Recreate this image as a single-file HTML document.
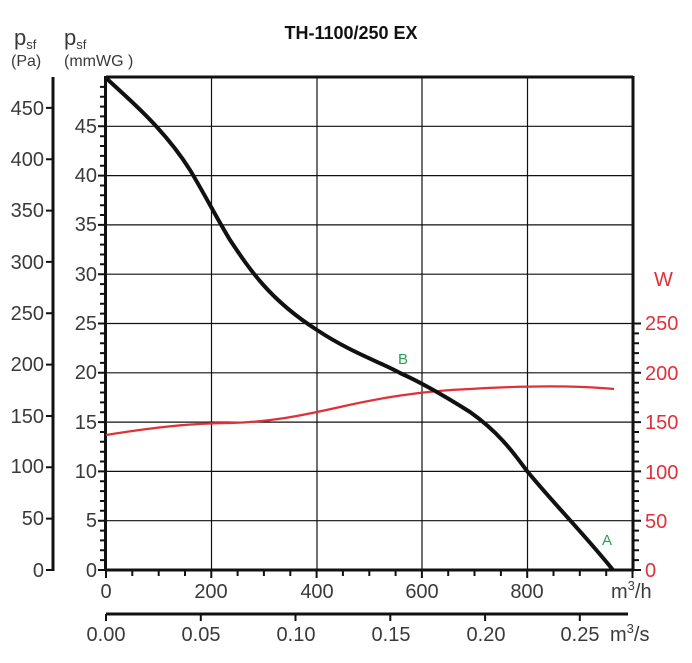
<!DOCTYPE html>
<html><head><meta charset="utf-8"><style>
body{margin:0;background:#fff}
text{font-family:"Liberation Sans Narrow","Liberation Sans",sans-serif}
</style></head><body>
<svg width="692" height="658" viewBox="0 0 692 658" xmlns="http://www.w3.org/2000/svg">
<g stroke="#111" stroke-width="1.2">
<line x1="211.5" y1="77" x2="211.5" y2="570"/>
<line x1="317" y1="77" x2="317" y2="570"/>
<line x1="422" y1="77" x2="422" y2="570"/>
<line x1="527.5" y1="77" x2="527.5" y2="570"/>
<line x1="106" y1="126.3" x2="633" y2="126.3"/>
<line x1="106" y1="175.6" x2="633" y2="175.6"/>
<line x1="106" y1="224.9" x2="633" y2="224.9"/>
<line x1="106" y1="274.2" x2="633" y2="274.2"/>
<line x1="106" y1="323.5" x2="633" y2="323.5"/>
<line x1="106" y1="372.8" x2="633" y2="372.8"/>
<line x1="106" y1="422.1" x2="633" y2="422.1"/>
<line x1="106" y1="471.4" x2="633" y2="471.4"/>
<line x1="106" y1="520.7" x2="633" y2="520.7"/>
</g>
<g stroke="#111" stroke-width="3" fill="none">
<line x1="106" y1="77" x2="633" y2="77"/>
<line x1="105.5" y1="76" x2="105.5" y2="571"/>
<line x1="633" y1="76" x2="633" y2="571"/>
<line x1="105" y1="570" x2="634" y2="570"/>
<line x1="53" y1="77" x2="53" y2="571"/>
<line x1="106" y1="614" x2="628" y2="614"/>
</g>
<path id="ticks" stroke="#111" stroke-width="2" fill="none" d=""/>
<g fill="#3a3a3a" font-size="20" text-anchor="end">
<text x="44" y="115">450</text><text x="44" y="166">400</text><text x="44" y="217">350</text><text x="44" y="269">300</text><text x="44" y="320">250</text><text x="44" y="371">200</text><text x="44" y="423">150</text><text x="44" y="473">100</text><text x="44" y="525">50</text><text x="44" y="577">0</text>
<text x="97" y="133">45</text><text x="97" y="182">40</text><text x="97" y="231">35</text><text x="97" y="281">30</text><text x="97" y="330">25</text><text x="97" y="379">20</text><text x="97" y="429">15</text><text x="97" y="478">10</text><text x="97" y="527">5</text><text x="97" y="577">0</text>
</g>
<g fill="#3a3a3a" font-size="20" text-anchor="middle">
<text x="106" y="598">0</text><text x="211" y="598">200</text><text x="317" y="598">400</text><text x="422" y="598">600</text><text x="527" y="598">800</text>
<text x="106" y="641">0.00</text><text x="201" y="641">0.05</text><text x="296" y="641">0.10</text><text x="391" y="641">0.15</text><text x="486" y="641">0.20</text><text x="580" y="641">0.25</text>
</g>
<g fill="#3a3a3a" font-size="20">
<text x="611" y="598">m<tspan font-size="13" dy="-8">3</tspan><tspan dy="8">/h</tspan></text>
<text x="610" y="641">m<tspan font-size="13" dy="-8">3</tspan><tspan dy="8">/s</tspan></text>
<text x="14" y="45" font-size="22">p<tspan font-size="13" dy="4">sf</tspan></text>
<text x="11" y="66" font-size="16">(Pa)</text>
<text x="64" y="45" font-size="22">p<tspan font-size="13" dy="4">sf</tspan></text>
<text x="64" y="66" font-size="16">(mmWG  )</text>
</g>
<text x="351" y="39" font-size="18" font-weight="bold" text-anchor="middle" fill="#111">TH-1100/250 EX</text>
<g fill="#e0303a" font-size="20">
<text x="654" y="286">W</text>
<text x="645" y="330">250</text><text x="645" y="380">200</text><text x="645" y="429">150</text><text x="645" y="479">100</text><text x="645" y="528">50</text><text x="645" y="577">0</text>
</g>
<text x="398" y="364" fill="#2aa050" font-size="15">B</text>
<text x="602" y="545" fill="#2aa050" font-size="15">A</text>
<path d="M106,435 C150,428 190,423 230,423 C270,422 300,416 340,407 C380,398 420,391 470,389 C520,386 570,385 614,389" stroke="#e0303a" stroke-width="2.2" fill="none"/>
<path d="M106,78 C130,100 165,130 190,170 C205,195 215,215 230,240 C250,270 270,300 317,330 C350,352 380,362 400,373 C420,382 440,393 470,412 C500,433 515,455 527,471 C555,505 585,535 613,570" stroke="#111" stroke-width="4" fill="none"/>
<script>
var d="";
for(var m=0;m<=49;m++){var y=570-m*9.86;var l=(m%5==0)?7:5;d+="M"+(105-l)+","+y.toFixed(1)+"h"+l;}
for(var p=0;p<=450;p+=50){var y=570-p*1.027;d+="M46,"+y.toFixed(1)+"h7";}
for(var w=0;w<=250;w+=10){var y=570-w*0.986;var l=(w%50==0)?7:5;d+="M634,"+y.toFixed(1)+"h"+l;}
for(var q=0;q<=1000;q+=50){var x=106+q*0.5265;var l=(q%200==0)?7:5;d+="M"+x.toFixed(1)+",571v"+l;}
for(var s=0;s<=0.26;s+=0.05){var x=106+s*3600*0.5265;d+="M"+x.toFixed(1)+",614v7";}
document.getElementById("ticks").setAttribute("d",d);
</script>
</svg>
</body></html>
